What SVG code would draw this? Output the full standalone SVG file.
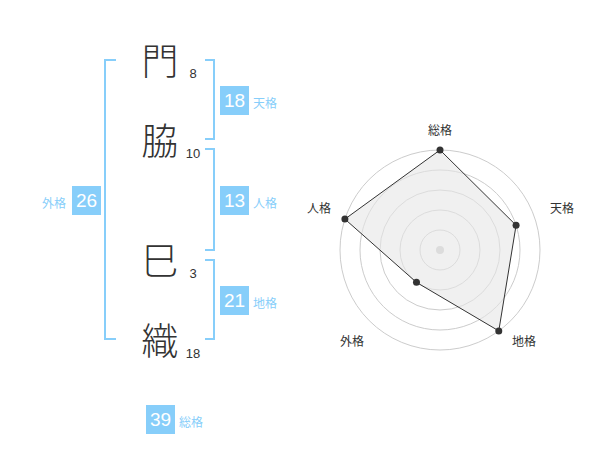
<svg xmlns="http://www.w3.org/2000/svg" width="600" height="470" viewBox="0 0 600 470">
<style>
.kanji{font-family:"Noto Sans CJK JP","Noto Sans CJK SC",sans-serif;font-size:37px;font-weight:300;fill:#333;text-anchor:middle}
.stroke{font-family:"Liberation Sans",Arial,sans-serif;font-size:13px;fill:#333;text-anchor:middle}
.box{fill:#87cefa}
.boxnum{font-family:"Liberation Sans",Arial,sans-serif;font-size:19px;fill:#fff;text-anchor:middle}
.blabel{font-family:"Noto Sans CJK JP","Noto Sans CJK SC",sans-serif;font-size:12px;fill:#87cefa}
.br{fill:none;stroke:#87cefa;stroke-width:2}
.ring{fill:none;stroke:#ccc;stroke-width:1}
.axis{font-family:"Noto Sans CJK JP","Noto Sans CJK SC",sans-serif;font-size:12px;fill:#333;text-anchor:middle}
.pt{fill:#333}
</style>
<g id="names">
<g id="char1"><text class="kanji" x="160" y="75">門</text><text class="stroke" x="193" y="78">8</text></g>
<g id="char2"><text class="kanji" x="160" y="155">脇</text><text class="stroke" x="193" y="158">10</text></g>
<g id="char3"><text class="kanji" x="160" y="275">巳</text><text class="stroke" x="193" y="278">3</text></g>
<g id="char4"><text class="kanji" x="160" y="355">織</text><text class="stroke" x="193" y="358">18</text></g>
</g>
<g id="connectors">
<path class="br" d="M116,60 H105 V339 H116"/>
<path class="br" d="M205,60 H214 V139 H205"/>
<path class="br" d="M205,149 H214 V250 H205"/>
<path class="br" d="M205,260 H214 V339 H205"/>
</g>
<g id="tenkaku"><rect class="box" x="220" y="86" width="29" height="29"/><text class="boxnum" x="234.5" y="107">18</text><text class="blabel" x="253" y="108">天格</text></g>
<g id="jinkaku"><rect class="box" x="220" y="186" width="29" height="29"/><text class="boxnum" x="234.5" y="207">13</text><text class="blabel" x="253" y="208">人格</text></g>
<g id="chikaku"><rect class="box" x="220" y="286" width="29" height="29"/><text class="boxnum" x="234.5" y="307">21</text><text class="blabel" x="253" y="308">地格</text></g>
<g id="gaikaku"><rect class="box" x="72" y="186" width="29" height="29"/><text class="boxnum" x="86.5" y="207">26</text><text class="blabel" x="66" y="208" text-anchor="end">外格</text></g>
<g id="soukaku"><rect class="box" x="146" y="405" width="29" height="29"/><text class="boxnum" x="160.5" y="426">39</text><text class="blabel" x="179" y="427">総格</text></g>
<g id="radar">
<circle class="ring" cx="440" cy="250" r="20"/>
<circle class="ring" cx="440" cy="250" r="40"/>
<circle class="ring" cx="440" cy="250" r="60"/>
<circle class="ring" cx="440" cy="250" r="80"/>
<circle class="ring" cx="440" cy="250" r="100"/>
<circle cx="440" cy="250" r="4" fill="#ccc"/>
<polygon points="440,150 516.08,225.28 498.78,330.9 416.49,282.36 344.89,219.1" fill="#e6e6e6" fill-opacity="0.6" stroke="#333" stroke-width="1"/>
<circle class="pt" cx="440" cy="150" r="3.5"/>
<circle class="pt" cx="516.08" cy="225.28" r="3.5"/>
<circle class="pt" cx="498.78" cy="330.9" r="3.5"/>
<circle class="pt" cx="416.49" cy="282.36" r="3.5"/>
<circle class="pt" cx="344.89" cy="219.1" r="3.5"/>
<text class="axis" x="440" y="135">総格</text>
<text class="axis" x="562" y="213">天格</text>
<text class="axis" x="524" y="346">地格</text>
<text class="axis" x="352" y="346">外格</text>
<text class="axis" x="319" y="213">人格</text>
</g>
</svg>
